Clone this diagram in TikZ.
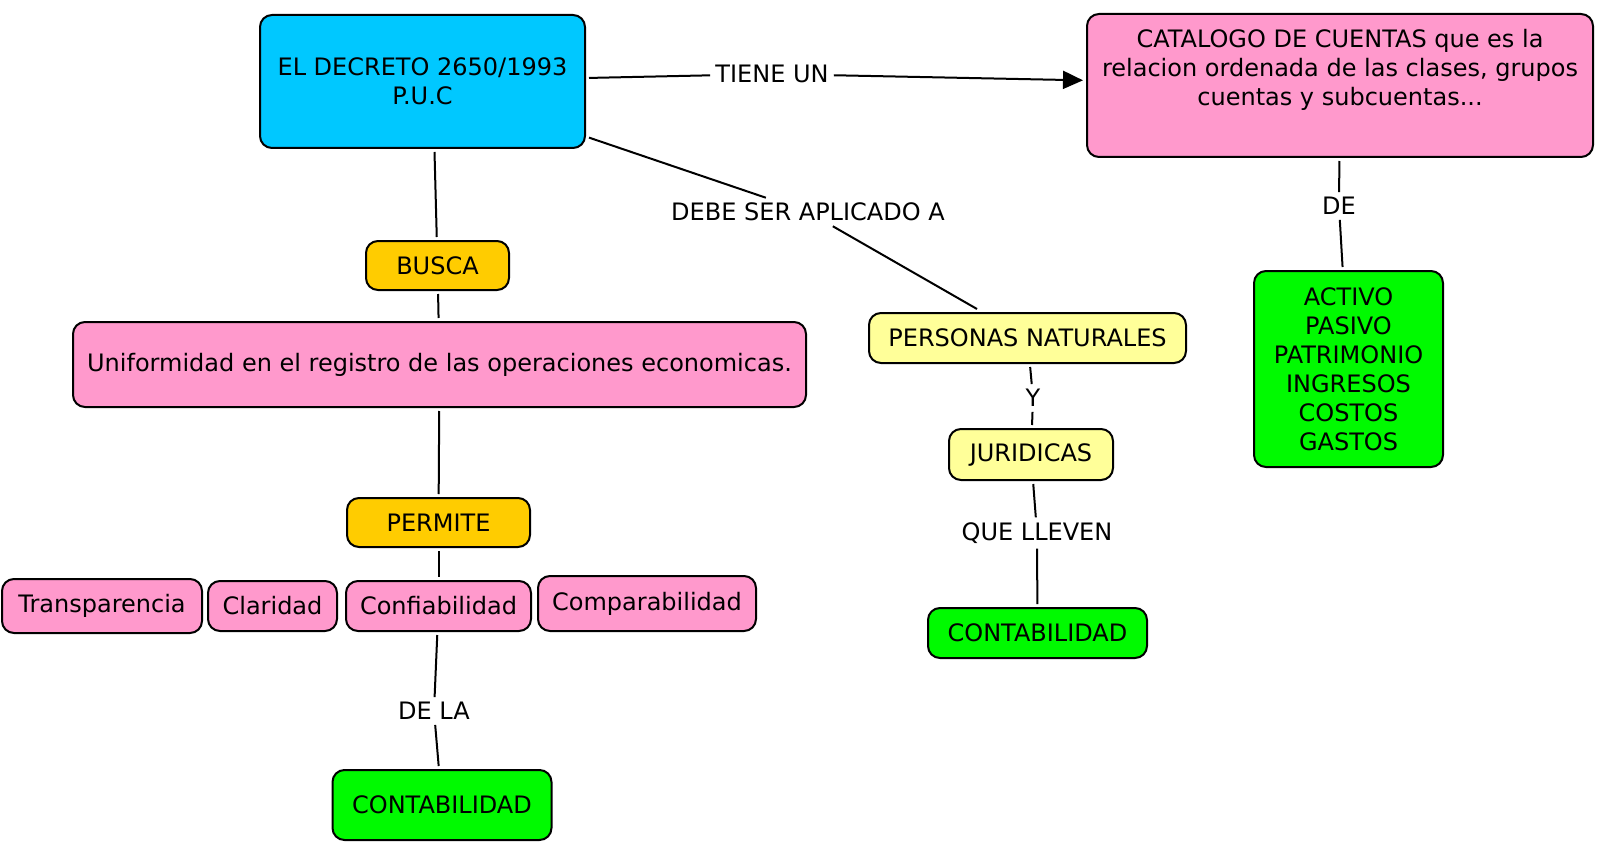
\documentclass[tikz,border=0pt]{standalone}
\usepackage{fontspec}
\setmainfont{DejaVu Sans}
\usetikzlibrary{arrows.meta}
\definecolor{cyanbox}{RGB}{0,200,255}
\definecolor{pinkbox}{RGB}{255,153,204}
\definecolor{goldbox}{RGB}{255,204,0}
\definecolor{ylwbox}{RGB}{255,255,153}
\definecolor{grnbox}{RGB}{0,250,0}
\begin{document}
\begin{tikzpicture}[x=1pt,y=-1pt,
  every node/.style={font=\fontsize{24}{29}\selectfont},
  box/.style={draw=black, line width=2pt, rounded corners=12pt, align=center, inner sep=0pt, outer sep=4pt},
  lbl/.style={inner sep=5pt},
  conn/.style={line width=2pt}]
\useasboundingbox (0,0) rectangle (1600,845);

% boxes
\node[box, fill=cyanbox, minimum width=325pt, minimum height=133pt] (dec) at (422.5,81.5) {EL DECRETO 2650/1993\\P.U.C};
\node[box, fill=pinkbox, minimum width=506pt, minimum height=143pt,
      label={[align=center,yshift=16pt]center:CATALOGO DE CUENTAS que es la\\relacion ordenada de las clases, grupos\\cuentas y subcuentas...}] (cat) at (1340,85.5) {};
\node[box, fill=grnbox, minimum width=189pt, minimum height=196pt] (act) at (1348.5,369) {ACTIVO\\PASIVO\\PATRIMONIO\\INGRESOS\\COSTOS\\GASTOS};
\node[box, fill=goldbox, minimum width=143pt, minimum height=49pt] (busca) at (437.5,265.5) {BUSCA};
\node[box, fill=pinkbox, minimum width=733pt, minimum height=85pt] (unif) at (439.5,364.5) {Uniformidad en el registro de las operaciones economicas.};
\node[box, fill=goldbox, minimum width=183pt, minimum height=49pt] (perm) at (438.5,522.5) {PERMITE};
\node[box, fill=pinkbox, minimum width=200pt, minimum height=54pt] (transp) at (102,606) {Transparencia};
\node[box, fill=pinkbox, minimum width=129pt, minimum height=50pt] (clar) at (272.5,606) {Claridad};
\node[box, fill=pinkbox, minimum width=185pt, minimum height=50pt] (conf) at (438.5,606) {Confiabilidad};
\node[box, fill=pinkbox, minimum width=218pt, minimum height=55pt] (comp) at (647,603.5) {Comparabilidad};
\node[box, fill=grnbox, minimum width=219pt, minimum height=70pt] (cont1) at (442,805) {CONTABILIDAD};
\node[box, fill=ylwbox, minimum width=317pt, minimum height=50pt] (pers) at (1027.5,338) {PERSONAS NATURALES};
\node[box, fill=ylwbox, minimum width=164pt, minimum height=51pt] (jur) at (1031,454.5) {JURIDICAS};
\node[box, fill=grnbox, minimum width=219pt, minimum height=50pt] (cont2) at (1037.5,633) {CONTABILIDAD};

% linking phrases
\node[lbl] (tiene) at (772,74) {TIENE UN};
\node[lbl] (debe) at (808,212) {DEBE SER APLICADO A};
\node[lbl] (de) at (1339,206) {DE};
\node[lbl] (y) at (1033,398) {Y};
\node[lbl] (dela) at (434,711) {DE LA};
\node[lbl] (quel) at (1037,533) {QUE LLEVEN};

% connectors
\draw[conn] (dec) -- (tiene);
\draw[conn, -{Triangle[length=20pt,width=18pt]}] (tiene) -- (cat);
\draw[conn] (cat) -- (de);
\draw[conn] (de) -- (act);
\draw[conn] (dec) -- (debe);
\draw[conn] (debe) -- (pers);
\draw[conn] (pers) -- (y);
\draw[conn] (y) -- (jur);
\draw[conn] (jur) -- (quel);
\draw[conn] (quel) -- (cont2);
\draw[conn] ([xshift=-3pt]busca.north |- dec.south) -- (busca);
\draw[conn] (busca) -- (unif);
\draw[conn] (unif) -- (perm);
\draw[conn] (perm) -- (conf);
\draw[conn] (conf) -- (dela);
\draw[conn] (dela) -- (cont1);
\end{tikzpicture}
\end{document}
